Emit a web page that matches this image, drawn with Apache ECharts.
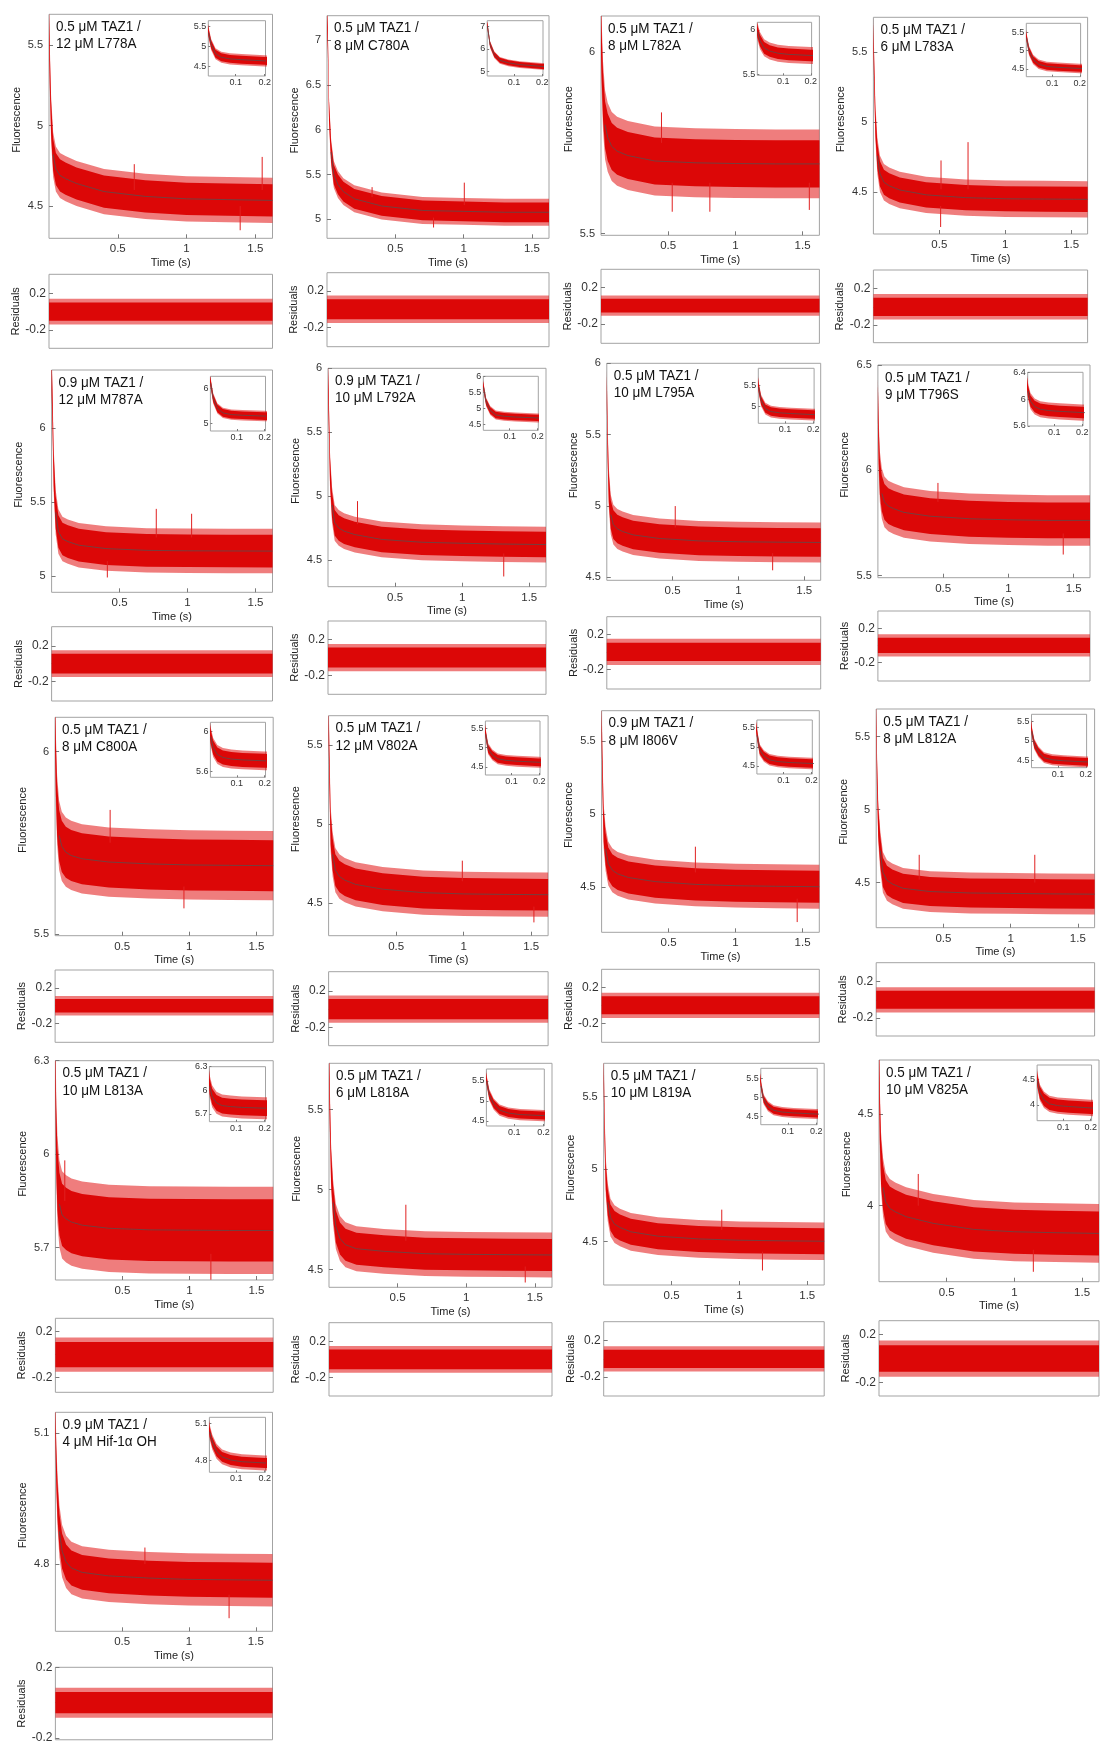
<!DOCTYPE html>
<html>
<head>
<meta charset="utf-8">
<script src="https://cdn.jsdelivr.net/npm/echarts@6/dist/echarts.min.js"></script>
<style>
html,body{margin:0;padding:0;background:#fff;}
#chart{width:1100px;height:1744px;}
</style>
</head>
<body>
<div id="chart"></div>
<script>
// ---------------- DATA ----------------
const TIME = [0, 0.006, 0.015, 0.03, 0.05, 0.08, 0.12, 0.2, 0.4, 0.7, 1.0, 1.3, 1.625];
const RES_TIME = [0, 1.625];
const RES_CENTER = [0, 0];

const TITLE_LINE1 = ["0.5 μM TAZ1 /","0.5 μM TAZ1 /","0.5 μM TAZ1 /","0.5 μM TAZ1 /",
  "0.9 μM TAZ1 /","0.9 μM TAZ1 /","0.5 μM TAZ1 /","0.5 μM TAZ1 /",
  "0.5 μM TAZ1 /","0.5 μM TAZ1 /","0.9 μM TAZ1 /","0.5 μM TAZ1 /",
  "0.5 μM TAZ1 /","0.5 μM TAZ1 /","0.5 μM TAZ1 /","0.5 μM TAZ1 /",
  "0.9 μM TAZ1 /"];
const TITLE_LINE2 = ["12 μM L778A","8 μM C780A","8 μM L782A","6 μM L783A",
  "12 μM M787A","10 μM L792A","10 μM L795A","9 μM T796S",
  "8 μM C800A","12 μM V802A","8 μM I806V","8 μM L812A",
  "10 μM L813A","6 μM L818A","10 μM L819A","10 μM V825A",
  "4 μM Hif-1α OH"];

// fitted (central) fluorescence trace of each panel at TIME
const FIT_L778A = [5.62, 5.35, 5.05, 4.82, 4.73, 4.69, 4.67, 4.64, 4.59, 4.56, 4.545, 4.54, 4.535];
const FIT_C780A = [7.25, 7.0, 6.2, 5.75, 5.5, 5.39, 5.31, 5.23, 5.15, 5.1, 5.09, 5.08, 5.08];
const FIT_L782A = [6.06, 5.98, 5.88, 5.80, 5.765, 5.74, 5.727, 5.715, 5.70, 5.695, 5.693, 5.692, 5.692];
const FIT_L783A = [5.62, 5.35, 5.0, 4.76, 4.63, 4.57, 4.545, 4.515, 4.48, 4.46, 4.452, 4.45, 4.448];
const FIT_M787A = [6.37, 6.15, 5.72, 5.43, 5.30, 5.25, 5.232, 5.208, 5.185, 5.173, 5.17, 5.169, 5.168];
const FIT_L792A = [5.92, 5.65, 5.2, 4.93, 4.79, 4.75, 4.725, 4.698, 4.66, 4.638, 4.63, 4.624, 4.62];
const FIT_L795A = [5.82, 5.45, 5.13, 4.94, 4.87, 4.84, 4.822, 4.798, 4.773, 4.756, 4.75, 4.747, 4.745];
const FIT_T796S = [6.32, 6.12, 5.97, 5.89, 5.85, 5.83, 5.818, 5.80, 5.782, 5.77, 5.765, 5.762, 5.762];
const FIT_C800A = [6.07, 5.95, 5.84, 5.77, 5.74, 5.724, 5.715, 5.706, 5.697, 5.692, 5.689, 5.688, 5.687];
const FIT_V802A = [5.66, 5.35, 4.97, 4.81, 4.71, 4.67, 4.647, 4.62, 4.59, 4.568, 4.56, 4.557, 4.555];
const FIT_I806V = [5.64, 5.3, 4.92, 4.76, 4.66, 4.615, 4.59, 4.565, 4.537, 4.518, 4.509, 4.505, 4.502];
const FIT_L812A = [5.65, 5.25, 4.92, 4.72, 4.57, 4.515, 4.49, 4.46, 4.438, 4.428, 4.425, 4.422, 4.42];
const FIT_L813A = [6.3, 6.05, 5.92, 5.84, 5.805, 5.792, 5.782, 5.772, 5.762, 5.757, 5.756, 5.755, 5.755];
const FIT_L818A = [5.79, 5.5, 5.15, 4.92, 4.77, 4.695, 4.656, 4.631, 4.615, 4.60, 4.596, 4.594, 4.592];
const FIT_L819A = [5.68, 5.3, 4.95, 4.77, 4.665, 4.62, 4.597, 4.567, 4.537, 4.518, 4.509, 4.505, 4.502];
const FIT_V825A = [4.79, 4.48, 4.24, 4.10, 4.02, 3.985, 3.967, 3.94, 3.904, 3.871, 3.858, 3.853, 3.849];
const FIT_HIF = [5.135, 5.03, 4.95, 4.875, 4.83, 4.805, 4.791, 4.781, 4.773, 4.768, 4.765, 4.764, 4.763];

// prominent single spikes seen in each trace: [time, base value, tip value]
const SPIKES_L778A = [[1.55, 4.60, 4.805], [1.39, 4.50, 4.35], [0.62, 4.60, 4.76]];
const SPIKES_C780A = [[1.005, 5.16, 5.41], [0.78, 5.02, 4.91], [0.33, 5.25, 5.36]];
const SPIKES_L782A = [[0.45, 5.75, 5.834], [0.53, 5.64, 5.56], [0.81, 5.64, 5.56], [1.55, 5.64, 5.565]];
const SPIKES_L783A = [[0.718, 4.52, 4.857], [0.513, 4.52, 4.726], [0.51, 4.40, 4.25]];
const SPIKES_M787A = [[0.77, 5.26, 5.453], [1.03, 5.26, 5.42], [0.41, 5.10, 4.99]];
const SPIKES_L792A = [[0.22, 4.78, 4.96], [1.31, 4.55, 4.37]];
const SPIKES_L795A = [[0.52, 4.85, 5.0], [1.26, 4.67, 4.55]];
const SPIKES_T796S = [[0.46, 5.85, 5.94], [1.42, 5.70, 5.60]];
const SPIKES_C800A = [[0.96, 5.63, 5.57], [0.41, 5.75, 5.84]];
const SPIKES_V802A = [[0.99, 4.64, 4.77], [1.52, 4.48, 4.38]];
const SPIKES_I806V = [[0.70, 4.60, 4.776], [1.46, 4.42, 4.26]];
const SPIKES_L812A = [[0.32, 4.52, 4.69], [1.18, 4.50, 4.69]];
const SPIKES_L813A = [[0.07, 5.85, 5.98], [1.16, 5.68, 5.597]];
const SPIKES_L818A = [[0.56, 4.68, 4.906], [1.43, 4.52, 4.42]];
const SPIKES_L819A = [[0.87, 4.58, 4.72], [1.17, 4.43, 4.30]];
const SPIKES_V825A = [[0.29, 4.0, 4.173], [1.14, 3.76, 3.64]];
const SPIKES_HIF = [[1.30, 4.73, 4.676], [0.67, 4.80, 4.838]];

// half-width of the dense noise band and of the spike fringe (fluorescence units)
const NOISE_CORE = [0.10, 0.11, 0.065, 0.09, 0.11, 0.10, 0.10, 0.085, 0.07, 0.10, 0.11, 0.10, 0.10, 0.10, 0.09, 0.12, 0.04];
const NOISE_SPIKE = [0.14, 0.15, 0.095, 0.13, 0.15, 0.14, 0.14, 0.12, 0.095, 0.14, 0.15, 0.14, 0.14, 0.14, 0.13, 0.16, 0.06];
// residual band half-widths
const RESID_CORE = [0.10, 0.11, 0.075, 0.10, 0.11, 0.11, 0.105, 0.09, 0.075, 0.11, 0.10, 0.10, 0.11, 0.11, 0.10, 0.11, 0.06];
const RESID_SPIKE = [0.14, 0.15, 0.11, 0.14, 0.15, 0.15, 0.15, 0.13, 0.11, 0.15, 0.14, 0.14, 0.15, 0.15, 0.14, 0.15, 0.085];

// axis ranges and tick labels
const MAIN_X_RANGE = [0, 1.625];
const MAIN_X_TICKS = [0.5, 1, 1.5];
const INSET_X_RANGE = [0.005, 0.203];
const INSET_X_TICKS = [0.1, 0.2];
const MAIN_YMIN = [4.3, 4.79, 5.495, 4.2, 4.89, 4.29, 4.48, 5.49, 5.495, 4.296, 4.19, 4.19, 5.596, 4.39, 4.2, 3.586, 4.646];
const MAIN_YMAX = [5.69, 7.27, 6.1, 5.75, 6.39, 6.0, 6.0, 6.5, 6.094, 5.686, 5.707, 5.69, 6.3, 5.79, 5.73, 4.794, 5.148];
const MAIN_YTICKS = [[4.5,5,5.5],[5,5.5,6,6.5,7],[5.5,6],[4.5,5,5.5],[5,5.5,6],[4.5,5,5.5,6],[4.5,5,5.5,6],[5.5,6,6.5],
  [5.5,6],[4.5,5,5.5],[4.5,5,5.5],[4.5,5,5.5],[5.7,6,6.3],[4.5,5,5.5],[4.5,5,5.5],[4,4.5],[4.8,5.1]];
const INSET_YMIN = [4.26, 4.81, 5.493, 4.29, 4.78, 4.31, 4.59, 5.6, 5.54, 4.29, 4.29, 4.31, 5.6, 4.37, 4.29, 3.69, 4.706];
const INSET_YMAX = [5.65, 7.24, 6.086, 5.746, 6.35, 6.0, 5.9, 6.4, 6.094, 5.69, 5.7, 5.69, 6.3, 5.8, 5.76, 4.78, 5.148];
const INSET_YTICKS = [[4.5,5,5.5],[5,6,7],[5.5,6],[4.5,5,5.5],[5,6],[4.5,5,5.5,6],[5,5.5],[5.6,6,6.4],
  [5.6,6],[4.5,5,5.5],[4.5,5,5.5],[4.5,5,5.5],[5.7,6,6.3],[4.5,5,5.5],[4.5,5,5.5],[4,4.5],[4.8,5.1]];
const RES_YMIN = [-0.4,-0.41,-0.41,-0.395,-0.42,-0.405,-0.425,-0.42,-0.41,-0.4,-0.41,-0.4,-0.33,-0.41,-0.41,-0.31,-0.21];
const RES_YMAX = [0.408,0.4,0.396,0.405,0.415,0.402,0.402,0.405,0.4,0.41,0.4,0.41,0.317,0.41,0.41,0.313,0.2];
const RES_YTICKS = [-0.2, 0, 0.2];
const RES_YLABELS = [-0.2, 0.2];

const FITS = [FIT_L778A, FIT_C780A, FIT_L782A, FIT_L783A, FIT_M787A, FIT_L792A, FIT_L795A, FIT_T796S,
  FIT_C800A, FIT_V802A, FIT_I806V, FIT_L812A, FIT_L813A, FIT_L818A, FIT_L819A, FIT_V825A, FIT_HIF];
const SPIKES = [SPIKES_L778A, SPIKES_C780A, SPIKES_L782A, SPIKES_L783A, SPIKES_M787A, SPIKES_L792A, SPIKES_L795A,
  SPIKES_T796S, SPIKES_C800A, SPIKES_V802A, SPIKES_I806V, SPIKES_L812A, SPIKES_L813A, SPIKES_L818A,
  SPIKES_L819A, SPIKES_V825A, SPIKES_HIF];

// ---------------- LAYOUT (pixels) ----------------
const MAIN_BOX = [[49,14.3,272.5,238.3],[327,15.7,549,238.3],[601,16,819.4,235.3],[873.4,17.3,1087.6,234],
  [51.6,370,272.5,592.3],[328,368.3,546,586.7],[606.8,363.3,820.7,580.3],[877.9,365,1090,577.7],
  [55.1,717.3,273.2,935.7],[328.6,715.7,548.1,935.7],[601.6,710.7,819.3,932.3],[876.2,709,1094.6,927.7],
  [55.4,1060.7,273.2,1280],[329,1063.3,552,1287.3],[603.7,1063.3,824.2,1285],[879,1060,1099,1281.7],
  [55.4,1412.3,272.5,1631.3]];
const RES_BOX_TB = [[274.3,348.3],[272.7,346.7],[269.3,343.3],[270,342.7],
  [626.7,701],[621,694.3],[616.7,689],[611,681],
  [970,1042.3],[971.7,1045.7],[969.3,1042.3],[962.7,1036],
  [1318.3,1392.3],[1322.7,1396],[1321.7,1396],[1320.7,1396],
  [1667.3,1741.3]];
const INSET_BOX = [[208.3,20.7,265.5,76],[487.2,20.7,543,76],[757.3,22.3,811.6,75.3],[1026.3,23.3,1080.6,76.7],
  [210.4,376.3,265.5,431],[483.3,376.3,538.3,430.3],[758.3,368.3,814.1,423.3],[1027.7,372.3,1083,426],
  [210.4,722.3,265.5,777.3],[485.4,721,540,775],[756.9,720,812.3,774],[1031.5,714.3,1086.6,767.7],
  [209.4,1066.7,265.5,1121.7],[486.4,1069,544.3,1126],[760.8,1068.3,817.2,1124.7],[1037.1,1065,1094,1120.7],
  [209.4,1417.3,265.5,1472.3]];

const FONT = 'Liberation Sans, Arial, Helvetica, sans-serif';
const RED = '#dc0707';
const FRINGE = 'rgba(226,18,18,0.55)';
const SPIKE_COLOR = '#e02020';
const FIT_COLOR = '#5b4c4c';
const BOX_COLOR = '#a3a3a3';

// ---------------- BUILD ----------------
const grids = [], xAxes = [], yAxes = [], series = [], graphics = [];

function addGrid(l, t, r, b) {
  grids.push({left: l, top: t, width: r - l, height: b - t, show: true,
    borderColor: BOX_COLOR, borderWidth: 1, backgroundColor: 'rgba(0,0,0,0)', containLabel: false});
  return grids.length - 1;
}
function valueAxis(gi, min, max, ticks, labels, fs, margin, tickLen, extra) {
  return Object.assign({
    type: 'value', gridIndex: gi, min: min, max: max, scale: true,
    axisLine: {show: false}, splitLine: {show: false},
    axisTick: {show: ticks.length > 0, inside: true, length: tickLen, customValues: ticks,
      lineStyle: {color: '#7a7a7a', width: 1}},
    axisLabel: {show: labels.length > 0, customValues: labels, fontSize: fs, color: '#333',
      margin: margin, fontFamily: FONT, showMinLabel: true, showMaxLabel: true, hideOverlap: false}
  }, extra || {});
}
// one closed polygon per band: items are [time, lower, upper]
function bandRender(fill) {
  return function (params, api) {
    if (params.dataIndexInside !== 0) return null;
    const n = params.dataInsideLength;
    const upper = [], lower = [];
    for (let i = 0; i < n; i++) {
      upper.push(api.coord([api.value(0, i), api.value(2, i)]));
      lower.push(api.coord([api.value(0, i), api.value(1, i)]));
    }
    const pts = upper.concat(lower.reverse());
    return {type: 'polygon', shape: {points: pts}, style: {fill: fill}};
  };
}
function addBand(gi, times, center, hw, fill, z) {
  const items = [];
  for (let i = 0; i < times.length; i++) items.push([times[i], center[i] - hw, center[i] + hw]);
  series.push({type: 'custom', xAxisIndex: gi, yAxisIndex: gi, clip: true, silent: true, z: z,
    renderItem: bandRender(fill), data: items, encode: {x: 0, y: [1, 2]}});
}
function addSpikes(gi, spikes) {
  series.push({type: 'custom', xAxisIndex: gi, yAxisIndex: gi, clip: true, silent: true, z: 4,
    data: spikes, encode: {x: 0, y: [1, 2]},
    renderItem: function (params, api) {
      const a = api.coord([api.value(0), api.value(1)]);
      const b = api.coord([api.value(0), api.value(2)]);
      return {type: 'line', shape: {x1: a[0], y1: a[1], x2: b[0], y2: b[1]},
        style: {stroke: SPIKE_COLOR, lineWidth: 1}};
    }});
}
function addFit(gi, times, fit, from) {
  const d = [];
  for (let i = from; i < times.length; i++) d.push([times[i], fit[i]]);
  series.push({type: 'line', xAxisIndex: gi, yAxisIndex: gi, data: d, showSymbol: false, symbol: 'none',
    clip: true, silent: true, z: 6, lineStyle: {color: FIT_COLOR, width: 0.8}});
}

for (let p = 0; p < FITS.length; p++) {
  const mb = MAIN_BOX[p];
  const fit = FITS[p];
  // main plot
  let gi = addGrid(mb[0], mb[1], mb[2], mb[3]);
  xAxes.push(valueAxis(gi, MAIN_X_RANGE[0], MAIN_X_RANGE[1], MAIN_X_TICKS, MAIN_X_TICKS, 11.5, 5, 4,
    {name: 'Time (s)', nameLocation: 'middle', nameGap: 19,
     nameTextStyle: {fontSize: 11, color: '#222', fontFamily: FONT, padding: [0, 0, 0, 20]}}));
  yAxes.push(valueAxis(gi, MAIN_YMIN[p], MAIN_YMAX[p], MAIN_YTICKS[p], MAIN_YTICKS[p], 11, 6, 4,
    {name: 'Fluorescence', nameLocation: 'middle', nameGap: 27,
     nameTextStyle: {fontSize: 11, color: '#222', fontFamily: FONT, padding: [0, 0, 0, 13]}}));
  addBand(gi, TIME, fit, NOISE_SPIKE[p], FRINGE, 2);
  addBand(gi, TIME, fit, NOISE_CORE[p], RED, 3);
  addSpikes(gi, SPIKES[p]);
  addFit(gi, TIME, fit, 3);

  // inset (first 0.2 s of the same trace)
  const ib = INSET_BOX[p];
  gi = addGrid(ib[0], ib[1], ib[2], ib[3]);
  xAxes.push(valueAxis(gi, INSET_X_RANGE[0], INSET_X_RANGE[1], INSET_X_TICKS, INSET_X_TICKS, 9, 2, 2));
  yAxes.push(valueAxis(gi, INSET_YMIN[p], INSET_YMAX[p], INSET_YTICKS[p], INSET_YTICKS[p], 9, 2, 2));
  addBand(gi, TIME, fit, NOISE_SPIKE[p], FRINGE, 2);
  addBand(gi, TIME, fit, NOISE_CORE[p], RED, 3);
  addFit(gi, TIME, fit, 1);

  // residuals
  const rb = RES_BOX_TB[p];
  gi = addGrid(mb[0], rb[0], mb[2], rb[1]);
  xAxes.push(valueAxis(gi, MAIN_X_RANGE[0], MAIN_X_RANGE[1], MAIN_X_TICKS, [], 11, 5, 4));
  yAxes.push(valueAxis(gi, RES_YMIN[p], RES_YMAX[p], RES_YTICKS, RES_YLABELS, 12, 3, 4,
    {name: 'Residuals', nameLocation: 'middle', nameGap: 27,
     nameTextStyle: {fontSize: 11, color: '#222', fontFamily: FONT}}));
  addBand(gi, RES_TIME, RES_CENTER, RESID_SPIKE[p], FRINGE, 2);
  addBand(gi, RES_TIME, RES_CENTER, RESID_CORE[p], RED, 3);

  // two-line label inside the main box (slightly condensed, as in the figure)
  graphics.push({type: 'text', x: mb[0] + 7, y: mb[1] + 3.8, scaleX: 0.87, scaleY: 1, silent: true, z: 100,
    style: {text: TITLE_LINE1[p] + '\n' + TITLE_LINE2[p], fontSize: 15.5, lineHeight: 17.2,
      fontFamily: FONT, fill: '#111', verticalAlign: 'top', align: 'left'}});
}

const chart = echarts.init(document.getElementById('chart'), null, {renderer: 'canvas'});
chart.setOption({
  animation: false,
  backgroundColor: '#ffffff',
  textStyle: {fontFamily: FONT},
  graphic: graphics,
  grid: grids,
  xAxis: xAxes,
  yAxis: yAxes,
  series: series
});
</script>
</body>
</html>
